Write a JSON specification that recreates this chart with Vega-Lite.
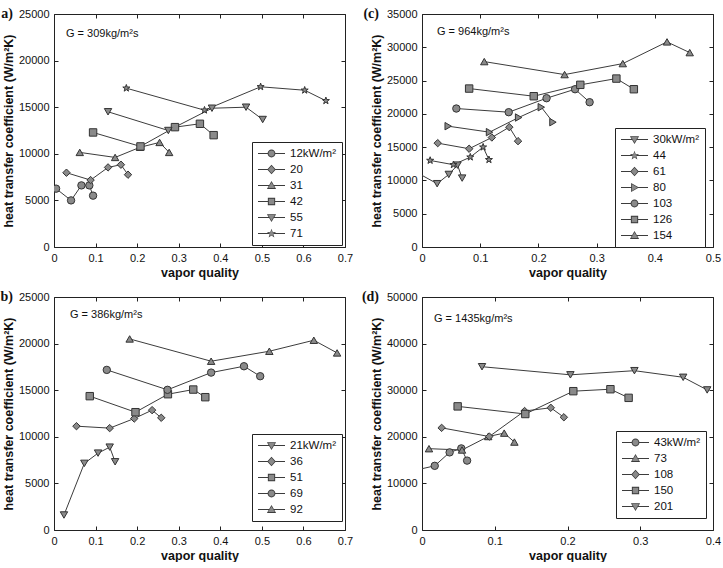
{
  "$schema": "https://vega.github.io/schema/vega-lite/v6.json",
  "padding": {"left": 0, "top": 6, "right": 0, "bottom": 0},
  "autosize": {"type": "pad"},
  "columns": 2,
  "bounds": "flush",
  "spacing": {"row": 50, "column": 77},
  "resolve": {"scale": {"shape": "independent"}, "legend": {"shape": "independent"}},
  "config": {
    "font": "Liberation Sans",
    "view": {"stroke": "#222", "strokeWidth": 1},
    "axis": {"grid": false, "domain": false, "tickSize": -4, "tickColor": "#222", "tickWidth": 1, "labelPadding": 9, "labelFont": "Liberation Sans", "labelFontSize": 11, "labelColor": "#111", "labelFlush": false, "labelOverlap": false, "titleFont": "Liberation Sans", "titleFontSize": 12.5, "titleFontWeight": "bold", "titleColor": "#111", "titlePadding": 3},
    "legend": {"title": null, "orient": "none", "symbolSize": 729, "clipHeight": 11, "rowPadding": 4, "padding": 6, "strokeColor": "#222", "fillColor": "white", "labelFont": "Liberation Sans", "labelFontSize": 11.5, "labelColor": "#111", "labelOffset": 5, "symbolOpacity": 1, "symbolFillColor": "#3c3c3c", "symbolStrokeColor": "transparent", "symbolStrokeWidth": 0}
  },
  "datasets": {
    "pa": [
      {"quality": 0.005, "htc": 6260, "flux": "12kW/m²"},
      {"quality": 0.041, "htc": 5000, "flux": "12kW/m²"},
      {"quality": 0.066, "htc": 6610, "flux": "12kW/m²"},
      {"quality": 0.085, "htc": 6610, "flux": "12kW/m²"},
      {"quality": 0.094, "htc": 5510, "flux": "12kW/m²"},
      {"quality": 0.030, "htc": 7970, "flux": "20"},
      {"quality": 0.088, "htc": 7180, "flux": "20"},
      {"quality": 0.130, "htc": 8540, "flux": "20"},
      {"quality": 0.161, "htc": 8830, "flux": "20"},
      {"quality": 0.178, "htc": 7760, "flux": "20"},
      {"quality": 0.062, "htc": 10150, "flux": "31"},
      {"quality": 0.147, "htc": 9610, "flux": "31"},
      {"quality": 0.207, "htc": 10700, "flux": "31"},
      {"quality": 0.254, "htc": 11220, "flux": "31"},
      {"quality": 0.277, "htc": 10150, "flux": "31"},
      {"quality": 0.094, "htc": 12290, "flux": "42"},
      {"quality": 0.208, "htc": 10790, "flux": "42"},
      {"quality": 0.291, "htc": 12860, "flux": "42"},
      {"quality": 0.351, "htc": 13220, "flux": "42"},
      {"quality": 0.384, "htc": 12000, "flux": "42"},
      {"quality": 0.130, "htc": 14510, "flux": "55"},
      {"quality": 0.275, "htc": 12500, "flux": "55"},
      {"quality": 0.380, "htc": 14890, "flux": "55"},
      {"quality": 0.462, "htc": 15000, "flux": "55"},
      {"quality": 0.502, "htc": 13680, "flux": "55"},
      {"quality": 0.174, "htc": 17040, "flux": "71"},
      {"quality": 0.362, "htc": 14680, "flux": "71"},
      {"quality": 0.497, "htc": 17190, "flux": "71"},
      {"quality": 0.603, "htc": 16820, "flux": "71"},
      {"quality": 0.654, "htc": 15690, "flux": "71"}
    ],
    "pc": [
      {"quality": -0.01, "htc": 11240, "flux": "30kW/m²"},
      {"quality": 0.026, "htc": 9510, "flux": "30kW/m²"},
      {"quality": 0.046, "htc": 10900, "flux": "30kW/m²"},
      {"quality": 0.061, "htc": 12300, "flux": "30kW/m²"},
      {"quality": 0.069, "htc": 10350, "flux": "30kW/m²"},
      {"quality": 0.014, "htc": 13000, "flux": "44"},
      {"quality": 0.054, "htc": 12360, "flux": "44"},
      {"quality": 0.083, "htc": 13500, "flux": "44"},
      {"quality": 0.105, "htc": 15000, "flux": "44"},
      {"quality": 0.115, "htc": 13110, "flux": "44"},
      {"quality": 0.027, "htc": 15600, "flux": "61"},
      {"quality": 0.081, "htc": 14760, "flux": "61"},
      {"quality": 0.120, "htc": 16450, "flux": "61"},
      {"quality": 0.150, "htc": 18000, "flux": "61"},
      {"quality": 0.165, "htc": 15900, "flux": "61"},
      {"quality": 0.045, "htc": 18150, "flux": "80"},
      {"quality": 0.116, "htc": 17250, "flux": "80"},
      {"quality": 0.166, "htc": 19450, "flux": "80"},
      {"quality": 0.205, "htc": 21000, "flux": "80"},
      {"quality": 0.225, "htc": 18750, "flux": "80"},
      {"quality": 0.059, "htc": 20800, "flux": "103"},
      {"quality": 0.149, "htc": 20250, "flux": "103"},
      {"quality": 0.214, "htc": 22350, "flux": "103"},
      {"quality": 0.263, "htc": 23700, "flux": "103"},
      {"quality": 0.288, "htc": 21750, "flux": "103"},
      {"quality": 0.081, "htc": 23800, "flux": "126"},
      {"quality": 0.192, "htc": 22650, "flux": "126"},
      {"quality": 0.272, "htc": 24360, "flux": "126"},
      {"quality": 0.334, "htc": 25300, "flux": "126"},
      {"quality": 0.364, "htc": 23700, "flux": "126"},
      {"quality": 0.107, "htc": 27850, "flux": "154"},
      {"quality": 0.245, "htc": 25900, "flux": "154"},
      {"quality": 0.345, "htc": 27550, "flux": "154"},
      {"quality": 0.421, "htc": 30810, "flux": "154"},
      {"quality": 0.460, "htc": 29200, "flux": "154"}
    ],
    "pb": [
      {"quality": 0.024, "htc": 1610, "flux": "21kW/m²"},
      {"quality": 0.073, "htc": 7150, "flux": "21kW/m²"},
      {"quality": 0.106, "htc": 8250, "flux": "21kW/m²"},
      {"quality": 0.134, "htc": 8890, "flux": "21kW/m²"},
      {"quality": 0.147, "htc": 7320, "flux": "21kW/m²"},
      {"quality": 0.054, "htc": 11140, "flux": "36"},
      {"quality": 0.134, "htc": 10930, "flux": "36"},
      {"quality": 0.193, "htc": 11960, "flux": "36"},
      {"quality": 0.236, "htc": 12860, "flux": "36"},
      {"quality": 0.258, "htc": 12040, "flux": "36"},
      {"quality": 0.086, "htc": 14360, "flux": "51"},
      {"quality": 0.196, "htc": 12640, "flux": "51"},
      {"quality": 0.274, "htc": 14570, "flux": "51"},
      {"quality": 0.335, "htc": 15070, "flux": "51"},
      {"quality": 0.364, "htc": 14250, "flux": "51"},
      {"quality": 0.127, "htc": 17180, "flux": "69"},
      {"quality": 0.273, "htc": 15040, "flux": "69"},
      {"quality": 0.378, "htc": 16890, "flux": "69"},
      {"quality": 0.457, "htc": 17570, "flux": "69"},
      {"quality": 0.496, "htc": 16500, "flux": "69"},
      {"quality": 0.182, "htc": 20500, "flux": "92"},
      {"quality": 0.378, "htc": 18110, "flux": "92"},
      {"quality": 0.518, "htc": 19180, "flux": "92"},
      {"quality": 0.625, "htc": 20360, "flux": "92"},
      {"quality": 0.681, "htc": 19000, "flux": "92"}
    ],
    "pd": [
      {"quality": -0.01, "htc": 12800, "flux": "43kW/m²"},
      {"quality": 0.0175, "htc": 13770, "flux": "43kW/m²"},
      {"quality": 0.038, "htc": 16660, "flux": "43kW/m²"},
      {"quality": 0.054, "htc": 17510, "flux": "43kW/m²"},
      {"quality": 0.062, "htc": 14890, "flux": "43kW/m²"},
      {"quality": 0.0096, "htc": 17450, "flux": "73"},
      {"quality": 0.055, "htc": 17170, "flux": "73"},
      {"quality": 0.091, "htc": 20060, "flux": "73"},
      {"quality": 0.113, "htc": 20790, "flux": "73"},
      {"quality": 0.127, "htc": 18870, "flux": "73"},
      {"quality": 0.027, "htc": 21920, "flux": "108"},
      {"quality": 0.0925, "htc": 20060, "flux": "108"},
      {"quality": 0.141, "htc": 25530, "flux": "108"},
      {"quality": 0.177, "htc": 26230, "flux": "108"},
      {"quality": 0.195, "htc": 24190, "flux": "108"},
      {"quality": 0.049, "htc": 26530, "flux": "150"},
      {"quality": 0.142, "htc": 24890, "flux": "150"},
      {"quality": 0.208, "htc": 29790, "flux": "150"},
      {"quality": 0.259, "htc": 30210, "flux": "150"},
      {"quality": 0.284, "htc": 28360, "flux": "150"},
      {"quality": 0.0825, "htc": 35040, "flux": "201"},
      {"quality": 0.204, "htc": 33300, "flux": "201"},
      {"quality": 0.292, "htc": 34190, "flux": "201"},
      {"quality": 0.359, "htc": 32770, "flux": "201"},
      {"quality": 0.392, "htc": 30060, "flux": "201"}
    ]
  },
  "concat": [
    {
      "width": 291, "height": 233,
      "data": {"name": "pa"},
      "resolve": {"scale": {"shape": "independent"}, "axis": {"x": "independent", "y": "independent"}, "legend": {"shape": "independent"}},
      "layer": [
        {
          "mark": {"type": "line", "color": "#3c3c3c", "strokeWidth": 1, "clip": true},
          "encoding": {
            "x": {"field": "quality", "type": "quantitative", "scale": {"domain": [0, 0.7], "nice": false, "zero": false}, "axis": {"orient": "bottom", "title": "vapor quality", "values": [0, 0.1, 0.2, 0.3, 0.4, 0.5, 0.6, 0.7], "format": ".1~f"}},
            "y": {"field": "htc", "type": "quantitative", "scale": {"domain": [0, 25000], "nice": false}, "axis": {"orient": "left", "title": "heat transfer coefficient (W/m²K)", "values": [0, 5000, 10000, 15000, 20000, 25000], "format": "d"}},
            "detail": {"field": "flux"}
          }
        },
        {
          "mark": {"type": "point", "filled": true, "color": "#8a8a8a", "fill": "#8a8a8a", "stroke": "#333333", "strokeWidth": 1, "size": 55, "opacity": 1, "clip": true},
          "encoding": {
            "x": {"field": "quality", "type": "quantitative", "scale": {"domain": [0, 0.7], "nice": false, "zero": false}, "axis": null},
            "y": {"field": "htc", "type": "quantitative", "scale": {"domain": [0, 25000], "nice": false}, "axis": null},
            "shape": {"field": "flux", "type": "nominal", "scale": {"domain": ["12kW/m²", "20", "31", "42", "55", "71"], "range": ["circle", "diamond", "triangle-up", "square", "triangle-down", "M0,-1L0.235,-0.324L0.951,-0.309L0.38,0.124L0.588,0.809L0,0.4L-0.588,0.809L-0.38,0.124L-0.951,-0.309L-0.235,-0.324Z"]}, "legend": null}
          }
        },
        {
          "transform": [{"filter": "false"}],
          "mark": {"type": "point", "filled": true, "fill": "#3c3c3c"},
          "encoding": {
            "x": {"field": "quality", "type": "quantitative", "scale": {"domain": [0, 0.7], "nice": false, "zero": false}, "axis": {"orient": "top", "labels": false, "title": null, "values": [0, 0.1, 0.2, 0.3, 0.4, 0.5, 0.6, 0.7]}},
            "y": {"field": "htc", "type": "quantitative", "scale": {"domain": [0, 25000], "nice": false}, "axis": {"orient": "right", "labels": false, "title": null, "values": [0, 5000, 10000, 15000, 20000, 25000]}},
            "shape": {"field": "flux", "type": "nominal", "scale": {"domain": ["12kW/m²", "20", "31", "42", "55", "71"], "range": [
              "M-1,-0.037H-0.12V0.037H-1ZM0.12,-0.037H1V0.037H0.12ZM-0.29,0A0.29,0.29,0,1,1,0.29,0A0.29,0.29,0,1,1,-0.29,0Z",
              "M-1,-0.037H-0.12V0.037H-1ZM0.12,-0.037H1V0.037H0.12ZM-0.32,0L0,-0.35L0.32,0L0,0.35Z",
              "M-1,-0.037H-0.12V0.037H-1ZM0.12,-0.037H1V0.037H0.12ZM0,-0.33L0.34,0.25L-0.34,0.25Z",
              "M-1,-0.037H-0.12V0.037H-1ZM0.12,-0.037H1V0.037H0.12ZM-0.27,-0.27H0.27V0.27H-0.27Z",
              "M-1,-0.037H-0.12V0.037H-1ZM0.12,-0.037H1V0.037H0.12ZM0,0.33L-0.34,-0.25L0.34,-0.25Z",
              "M-1,-0.037H-0.08V0.037H-1ZM0.08,-0.037H1V0.037H0.08ZM0,-0.36L0.085,-0.117L0.342,-0.111L0.137,0.045L0.212,0.291L0,0.144L-0.212,0.291L-0.137,0.045L-0.342,-0.111L-0.085,-0.117Z"
            ]}, "legend": {"legendX": 198, "legendY": 128, "encode": {"symbols": {"update": {"fill": {"value": "#3c3c3c"}, "opacity": {"value": 1}}}}}}
          }
        },
        {
          "transform": [{"filter": "false"}],
          "mark": {"type": "point", "filled": true, "fill": "#8a8a8a"},
          "encoding": {
            "x": {"field": "quality", "type": "quantitative", "scale": {"domain": [0, 0.7], "nice": false, "zero": false}, "axis": null},
            "y": {"field": "htc", "type": "quantitative", "scale": {"domain": [0, 25000], "nice": false}, "axis": null},
            "shape": {"field": "flux", "type": "nominal", "scale": {"domain": ["12kW/m²", "20", "31", "42", "55", "71"], "range": [
              "M-0.22,0A0.22,0.22,0,1,1,0.22,0A0.22,0.22,0,1,1,-0.22,0Z",
              "M-0.24,0L0,-0.27L0.24,0L0,0.27Z",
              "M0,-0.24L0.25,0.19L-0.25,0.19Z",
              "M-0.2,-0.2H0.2V0.2H-0.2Z",
              "M0,0.24L-0.25,-0.19L0.25,-0.19Z",
              "M0,-0.27L0.063,-0.087L0.257,-0.083L0.103,0.033L0.159,0.218L0,0.108L-0.159,0.218L-0.103,0.033L-0.257,-0.083L-0.063,-0.087Z"
            ]}, "legend": {"legendX": 198, "legendY": 128, "labelExpr": "''", "fillColor": "transparent", "strokeColor": "transparent", "encode": {"symbols": {"update": {"fill": {"value": "#8a8a8a"}, "opacity": {"value": 1}}}}}}
          }
        },
        {
          "data": {"values": [{"t": "G = 309kg/m²s"}]},
          "mark": {"type": "text", "align": "left", "baseline": "middle", "dx": 12, "dy": 20, "fontSize": 11, "font": "Liberation Sans", "color": "#111"},
          "encoding": {
            "x": {"datum": 0, "type": "quantitative", "scale": {"domain": [0, 0.7], "nice": false, "zero": false}, "axis": null},
            "y": {"datum": 25000, "type": "quantitative", "scale": {"domain": [0, 25000], "nice": false}, "axis": null},
            "text": {"field": "t"}
          }
        },
        {
          "data": {"values": [{"t": "a)"}]},
          "mark": {"type": "text", "align": "right", "baseline": "alphabetic", "dx": -41, "dy": 4, "fontSize": 14, "font": "Liberation Serif", "fontWeight": "bold", "color": "#111"},
          "encoding": {
            "x": {"datum": 0, "type": "quantitative", "scale": {"domain": [0, 0.7], "nice": false, "zero": false}, "axis": null},
            "y": {"datum": 25000, "type": "quantitative", "scale": {"domain": [0, 25000], "nice": false}, "axis": null},
            "text": {"field": "t"}
          }
        }
      ]
    },
    {
      "width": 291, "height": 233,
      "data": {"name": "pc"},
      "resolve": {"scale": {"shape": "independent"}, "axis": {"x": "independent", "y": "independent"}, "legend": {"shape": "independent"}},
      "layer": [
        {
          "mark": {"type": "line", "color": "#3c3c3c", "strokeWidth": 1, "clip": true},
          "encoding": {
            "x": {"field": "quality", "type": "quantitative", "scale": {"domain": [0, 0.5], "nice": false, "zero": false}, "axis": {"orient": "bottom", "title": "vapor quality", "values": [0, 0.1, 0.2, 0.3, 0.4, 0.5], "format": ".1~f"}},
            "y": {"field": "htc", "type": "quantitative", "scale": {"domain": [0, 35000], "nice": false}, "axis": {"orient": "left", "title": "heat transfer coefficient (W/m²K)", "values": [0, 5000, 10000, 15000, 20000, 25000, 30000, 35000], "format": "d"}},
            "detail": {"field": "flux"}
          }
        },
        {
          "mark": {"type": "point", "filled": true, "color": "#8a8a8a", "fill": "#8a8a8a", "stroke": "#333333", "strokeWidth": 1, "size": 55, "opacity": 1, "clip": true},
          "encoding": {
            "x": {"field": "quality", "type": "quantitative", "scale": {"domain": [0, 0.5], "nice": false, "zero": false}, "axis": null},
            "y": {"field": "htc", "type": "quantitative", "scale": {"domain": [0, 35000], "nice": false}, "axis": null},
            "shape": {"field": "flux", "type": "nominal", "scale": {"domain": ["30kW/m²", "44", "61", "80", "103", "126", "154"], "range": ["triangle-down", "M0,-1L0.235,-0.324L0.951,-0.309L0.38,0.124L0.588,0.809L0,0.4L-0.588,0.809L-0.38,0.124L-0.951,-0.309L-0.235,-0.324Z", "diamond", "triangle-right", "circle", "square", "triangle-up"]}, "legend": null}
          }
        },
        {
          "transform": [{"filter": "false"}],
          "mark": {"type": "point", "filled": true, "fill": "#3c3c3c"},
          "encoding": {
            "x": {"field": "quality", "type": "quantitative", "scale": {"domain": [0, 0.5], "nice": false, "zero": false}, "axis": {"orient": "top", "labels": false, "title": null, "values": [0, 0.1, 0.2, 0.3, 0.4, 0.5]}},
            "y": {"field": "htc", "type": "quantitative", "scale": {"domain": [0, 35000], "nice": false}, "axis": {"orient": "right", "labels": false, "title": null, "values": [0, 5000, 10000, 15000, 20000, 25000, 30000, 35000]}},
            "shape": {"field": "flux", "type": "nominal", "scale": {"domain": ["30kW/m²", "44", "61", "80", "103", "126", "154"], "range": [
              "M-1,-0.037H-0.12V0.037H-1ZM0.12,-0.037H1V0.037H0.12ZM0,0.33L-0.34,-0.25L0.34,-0.25Z",
              "M-1,-0.037H-0.08V0.037H-1ZM0.08,-0.037H1V0.037H0.08ZM0,-0.36L0.085,-0.117L0.342,-0.111L0.137,0.045L0.212,0.291L0,0.144L-0.212,0.291L-0.137,0.045L-0.342,-0.111L-0.085,-0.117Z",
              "M-1,-0.037H-0.12V0.037H-1ZM0.12,-0.037H1V0.037H0.12ZM-0.32,0L0,-0.35L0.32,0L0,0.35Z",
              "M-1,-0.037H-0.12V0.037H-1ZM0.12,-0.037H1V0.037H0.12ZM0.33,0L-0.25,0.34L-0.25,-0.34Z",
              "M-1,-0.037H-0.12V0.037H-1ZM0.12,-0.037H1V0.037H0.12ZM-0.29,0A0.29,0.29,0,1,1,0.29,0A0.29,0.29,0,1,1,-0.29,0Z",
              "M-1,-0.037H-0.12V0.037H-1ZM0.12,-0.037H1V0.037H0.12ZM-0.27,-0.27H0.27V0.27H-0.27Z",
              "M-1,-0.037H-0.12V0.037H-1ZM0.12,-0.037H1V0.037H0.12ZM0,-0.33L0.34,0.25L-0.34,0.25Z"
            ]}, "legend": {"legendX": 193, "legendY": 114, "encode": {"symbols": {"update": {"fill": {"value": "#3c3c3c"}, "opacity": {"value": 1}}}}}}
          }
        },
        {
          "transform": [{"filter": "false"}],
          "mark": {"type": "point", "filled": true, "fill": "#8a8a8a"},
          "encoding": {
            "x": {"field": "quality", "type": "quantitative", "scale": {"domain": [0, 0.5], "nice": false, "zero": false}, "axis": null},
            "y": {"field": "htc", "type": "quantitative", "scale": {"domain": [0, 35000], "nice": false}, "axis": null},
            "shape": {"field": "flux", "type": "nominal", "scale": {"domain": ["30kW/m²", "44", "61", "80", "103", "126", "154"], "range": [
              "M0,0.24L-0.25,-0.19L0.25,-0.19Z",
              "M0,-0.27L0.063,-0.087L0.257,-0.083L0.103,0.033L0.159,0.218L0,0.108L-0.159,0.218L-0.103,0.033L-0.257,-0.083L-0.063,-0.087Z",
              "M-0.24,0L0,-0.27L0.24,0L0,0.27Z",
              "M0.24,0L-0.19,0.25L-0.19,-0.25Z",
              "M-0.22,0A0.22,0.22,0,1,1,0.22,0A0.22,0.22,0,1,1,-0.22,0Z",
              "M-0.2,-0.2H0.2V0.2H-0.2Z",
              "M0,-0.24L0.25,0.19L-0.25,0.19Z"
            ]}, "legend": {"legendX": 193, "legendY": 114, "labelExpr": "''", "fillColor": "transparent", "strokeColor": "transparent", "encode": {"symbols": {"update": {"fill": {"value": "#8a8a8a"}, "opacity": {"value": 1}}}}}}
          }
        },
        {
          "data": {"values": [{"t": "G = 964kg/m²s"}]},
          "mark": {"type": "text", "align": "left", "baseline": "middle", "dx": 15, "dy": 18, "fontSize": 11, "font": "Liberation Sans", "color": "#111"},
          "encoding": {
            "x": {"datum": 0, "type": "quantitative", "scale": {"domain": [0, 0.5], "nice": false, "zero": false}, "axis": null},
            "y": {"datum": 35000, "type": "quantitative", "scale": {"domain": [0, 35000], "nice": false}, "axis": null},
            "text": {"field": "t"}
          }
        },
        {
          "data": {"values": [{"t": "(c)"}]},
          "mark": {"type": "text", "align": "right", "baseline": "alphabetic", "dx": -43, "dy": 4, "fontSize": 14, "font": "Liberation Serif", "fontWeight": "bold", "color": "#111"},
          "encoding": {
            "x": {"datum": 0, "type": "quantitative", "scale": {"domain": [0, 0.5], "nice": false, "zero": false}, "axis": null},
            "y": {"datum": 35000, "type": "quantitative", "scale": {"domain": [0, 35000], "nice": false}, "axis": null},
            "text": {"field": "t"}
          }
        }
      ]
    },
    {
      "width": 291, "height": 233,
      "data": {"name": "pb"},
      "resolve": {"scale": {"shape": "independent"}, "axis": {"x": "independent", "y": "independent"}, "legend": {"shape": "independent"}},
      "layer": [
        {
          "mark": {"type": "line", "color": "#3c3c3c", "strokeWidth": 1, "clip": true},
          "encoding": {
            "x": {"field": "quality", "type": "quantitative", "scale": {"domain": [0, 0.7], "nice": false, "zero": false}, "axis": {"orient": "bottom", "title": "vapor quality", "values": [0, 0.1, 0.2, 0.3, 0.4, 0.5, 0.6, 0.7], "format": ".1~f"}},
            "y": {"field": "htc", "type": "quantitative", "scale": {"domain": [0, 25000], "nice": false}, "axis": {"orient": "left", "title": "heat transfer coefficient (W/m²K)", "values": [0, 5000, 10000, 15000, 20000, 25000], "format": "d"}},
            "detail": {"field": "flux"}
          }
        },
        {
          "mark": {"type": "point", "filled": true, "color": "#8a8a8a", "fill": "#8a8a8a", "stroke": "#333333", "strokeWidth": 1, "size": 55, "opacity": 1, "clip": true},
          "encoding": {
            "x": {"field": "quality", "type": "quantitative", "scale": {"domain": [0, 0.7], "nice": false, "zero": false}, "axis": null},
            "y": {"field": "htc", "type": "quantitative", "scale": {"domain": [0, 25000], "nice": false}, "axis": null},
            "shape": {"field": "flux", "type": "nominal", "scale": {"domain": ["21kW/m²", "36", "51", "69", "92"], "range": ["triangle-down", "diamond", "square", "circle", "triangle-up"]}, "legend": null}
          }
        },
        {
          "transform": [{"filter": "false"}],
          "mark": {"type": "point", "filled": true, "fill": "#3c3c3c"},
          "encoding": {
            "x": {"field": "quality", "type": "quantitative", "scale": {"domain": [0, 0.7], "nice": false, "zero": false}, "axis": {"orient": "top", "labels": false, "title": null, "values": [0, 0.1, 0.2, 0.3, 0.4, 0.5, 0.6, 0.7]}},
            "y": {"field": "htc", "type": "quantitative", "scale": {"domain": [0, 25000], "nice": false}, "axis": {"orient": "right", "labels": false, "title": null, "values": [0, 5000, 10000, 15000, 20000, 25000]}},
            "shape": {"field": "flux", "type": "nominal", "scale": {"domain": ["21kW/m²", "36", "51", "69", "92"], "range": [
              "M-1,-0.037H-0.12V0.037H-1ZM0.12,-0.037H1V0.037H0.12ZM0,0.33L-0.34,-0.25L0.34,-0.25Z",
              "M-1,-0.037H-0.12V0.037H-1ZM0.12,-0.037H1V0.037H0.12ZM-0.32,0L0,-0.35L0.32,0L0,0.35Z",
              "M-1,-0.037H-0.12V0.037H-1ZM0.12,-0.037H1V0.037H0.12ZM-0.27,-0.27H0.27V0.27H-0.27Z",
              "M-1,-0.037H-0.12V0.037H-1ZM0.12,-0.037H1V0.037H0.12ZM-0.29,0A0.29,0.29,0,1,1,0.29,0A0.29,0.29,0,1,1,-0.29,0Z",
              "M-1,-0.037H-0.12V0.037H-1ZM0.12,-0.037H1V0.037H0.12ZM0,-0.33L0.34,0.25L-0.34,0.25Z"
            ]}, "legend": {"legendX": 198, "legendY": 137, "encode": {"symbols": {"update": {"fill": {"value": "#3c3c3c"}, "opacity": {"value": 1}}}}}}
          }
        },
        {
          "transform": [{"filter": "false"}],
          "mark": {"type": "point", "filled": true, "fill": "#8a8a8a"},
          "encoding": {
            "x": {"field": "quality", "type": "quantitative", "scale": {"domain": [0, 0.7], "nice": false, "zero": false}, "axis": null},
            "y": {"field": "htc", "type": "quantitative", "scale": {"domain": [0, 25000], "nice": false}, "axis": null},
            "shape": {"field": "flux", "type": "nominal", "scale": {"domain": ["21kW/m²", "36", "51", "69", "92"], "range": [
              "M0,0.24L-0.25,-0.19L0.25,-0.19Z",
              "M-0.24,0L0,-0.27L0.24,0L0,0.27Z",
              "M-0.2,-0.2H0.2V0.2H-0.2Z",
              "M-0.22,0A0.22,0.22,0,1,1,0.22,0A0.22,0.22,0,1,1,-0.22,0Z",
              "M0,-0.24L0.25,0.19L-0.25,0.19Z"
            ]}, "legend": {"legendX": 198, "legendY": 137, "labelExpr": "''", "fillColor": "transparent", "strokeColor": "transparent", "encode": {"symbols": {"update": {"fill": {"value": "#8a8a8a"}, "opacity": {"value": 1}}}}}}
          }
        },
        {
          "data": {"values": [{"t": "G = 386kg/m²s"}]},
          "mark": {"type": "text", "align": "left", "baseline": "middle", "dx": 16, "dy": 18, "fontSize": 11, "font": "Liberation Sans", "color": "#111"},
          "encoding": {
            "x": {"datum": 0, "type": "quantitative", "scale": {"domain": [0, 0.7], "nice": false, "zero": false}, "axis": null},
            "y": {"datum": 25000, "type": "quantitative", "scale": {"domain": [0, 25000], "nice": false}, "axis": null},
            "text": {"field": "t"}
          }
        },
        {
          "data": {"values": [{"t": "b)"}]},
          "mark": {"type": "text", "align": "right", "baseline": "alphabetic", "dx": -41, "dy": 4, "fontSize": 14, "font": "Liberation Serif", "fontWeight": "bold", "color": "#111"},
          "encoding": {
            "x": {"datum": 0, "type": "quantitative", "scale": {"domain": [0, 0.7], "nice": false, "zero": false}, "axis": null},
            "y": {"datum": 25000, "type": "quantitative", "scale": {"domain": [0, 25000], "nice": false}, "axis": null},
            "text": {"field": "t"}
          }
        }
      ]
    },
    {
      "width": 291, "height": 233,
      "data": {"name": "pd"},
      "resolve": {"scale": {"shape": "independent"}, "axis": {"x": "independent", "y": "independent"}, "legend": {"shape": "independent"}},
      "layer": [
        {
          "mark": {"type": "line", "color": "#3c3c3c", "strokeWidth": 1, "clip": true},
          "encoding": {
            "x": {"field": "quality", "type": "quantitative", "scale": {"domain": [0, 0.4], "nice": false, "zero": false}, "axis": {"orient": "bottom", "title": "vapor quality", "values": [0, 0.1, 0.2, 0.3, 0.4], "format": ".1~f"}},
            "y": {"field": "htc", "type": "quantitative", "scale": {"domain": [0, 50000], "nice": false}, "axis": {"orient": "left", "title": "heat transfer coefficient (W/m²K)", "values": [0, 10000, 20000, 30000, 40000, 50000], "format": "d"}},
            "detail": {"field": "flux"}
          }
        },
        {
          "mark": {"type": "point", "filled": true, "color": "#8a8a8a", "fill": "#8a8a8a", "stroke": "#333333", "strokeWidth": 1, "size": 55, "opacity": 1, "clip": true},
          "encoding": {
            "x": {"field": "quality", "type": "quantitative", "scale": {"domain": [0, 0.4], "nice": false, "zero": false}, "axis": null},
            "y": {"field": "htc", "type": "quantitative", "scale": {"domain": [0, 50000], "nice": false}, "axis": null},
            "shape": {"field": "flux", "type": "nominal", "scale": {"domain": ["43kW/m²", "73", "108", "150", "201"], "range": ["circle", "triangle-up", "diamond", "square", "triangle-down"]}, "legend": null}
          }
        },
        {
          "transform": [{"filter": "false"}],
          "mark": {"type": "point", "filled": true, "fill": "#3c3c3c"},
          "encoding": {
            "x": {"field": "quality", "type": "quantitative", "scale": {"domain": [0, 0.4], "nice": false, "zero": false}, "axis": {"orient": "top", "labels": false, "title": null, "values": [0, 0.1, 0.2, 0.3, 0.4]}},
            "y": {"field": "htc", "type": "quantitative", "scale": {"domain": [0, 50000], "nice": false}, "axis": {"orient": "right", "labels": false, "title": null, "values": [0, 10000, 20000, 30000, 40000, 50000]}},
            "shape": {"field": "flux", "type": "nominal", "scale": {"domain": ["43kW/m²", "73", "108", "150", "201"], "range": [
              "M-1,-0.037H-0.12V0.037H-1ZM0.12,-0.037H1V0.037H0.12ZM-0.29,0A0.29,0.29,0,1,1,0.29,0A0.29,0.29,0,1,1,-0.29,0Z",
              "M-1,-0.037H-0.12V0.037H-1ZM0.12,-0.037H1V0.037H0.12ZM0,-0.33L0.34,0.25L-0.34,0.25Z",
              "M-1,-0.037H-0.12V0.037H-1ZM0.12,-0.037H1V0.037H0.12ZM-0.32,0L0,-0.35L0.32,0L0,0.35Z",
              "M-1,-0.037H-0.12V0.037H-1ZM0.12,-0.037H1V0.037H0.12ZM-0.27,-0.27H0.27V0.27H-0.27Z",
              "M-1,-0.037H-0.12V0.037H-1ZM0.12,-0.037H1V0.037H0.12ZM0,0.33L-0.34,-0.25L0.34,-0.25Z"
            ]}, "legend": {"legendX": 194, "legendY": 134, "encode": {"symbols": {"update": {"fill": {"value": "#3c3c3c"}, "opacity": {"value": 1}}}}}}
          }
        },
        {
          "transform": [{"filter": "false"}],
          "mark": {"type": "point", "filled": true, "fill": "#8a8a8a"},
          "encoding": {
            "x": {"field": "quality", "type": "quantitative", "scale": {"domain": [0, 0.4], "nice": false, "zero": false}, "axis": null},
            "y": {"field": "htc", "type": "quantitative", "scale": {"domain": [0, 50000], "nice": false}, "axis": null},
            "shape": {"field": "flux", "type": "nominal", "scale": {"domain": ["43kW/m²", "73", "108", "150", "201"], "range": [
              "M-0.22,0A0.22,0.22,0,1,1,0.22,0A0.22,0.22,0,1,1,-0.22,0Z",
              "M0,-0.24L0.25,0.19L-0.25,0.19Z",
              "M-0.24,0L0,-0.27L0.24,0L0,0.27Z",
              "M-0.2,-0.2H0.2V0.2H-0.2Z",
              "M0,0.24L-0.25,-0.19L0.25,-0.19Z"
            ]}, "legend": {"legendX": 194, "legendY": 134, "labelExpr": "''", "fillColor": "transparent", "strokeColor": "transparent", "encode": {"symbols": {"update": {"fill": {"value": "#8a8a8a"}, "opacity": {"value": 1}}}}}}
          }
        },
        {
          "data": {"values": [{"t": "G = 1435kg/m²s"}]},
          "mark": {"type": "text", "align": "left", "baseline": "middle", "dx": 12, "dy": 22, "fontSize": 11, "font": "Liberation Sans", "color": "#111"},
          "encoding": {
            "x": {"datum": 0, "type": "quantitative", "scale": {"domain": [0, 0.4], "nice": false, "zero": false}, "axis": null},
            "y": {"datum": 50000, "type": "quantitative", "scale": {"domain": [0, 50000], "nice": false}, "axis": null},
            "text": {"field": "t"}
          }
        },
        {
          "data": {"values": [{"t": "(d)"}]},
          "mark": {"type": "text", "align": "right", "baseline": "alphabetic", "dx": -43, "dy": 4, "fontSize": 14, "font": "Liberation Serif", "fontWeight": "bold", "color": "#111"},
          "encoding": {
            "x": {"datum": 0, "type": "quantitative", "scale": {"domain": [0, 0.4], "nice": false, "zero": false}, "axis": null},
            "y": {"datum": 50000, "type": "quantitative", "scale": {"domain": [0, 50000], "nice": false}, "axis": null},
            "text": {"field": "t"}
          }
        }
      ]
    }
  ]
}
